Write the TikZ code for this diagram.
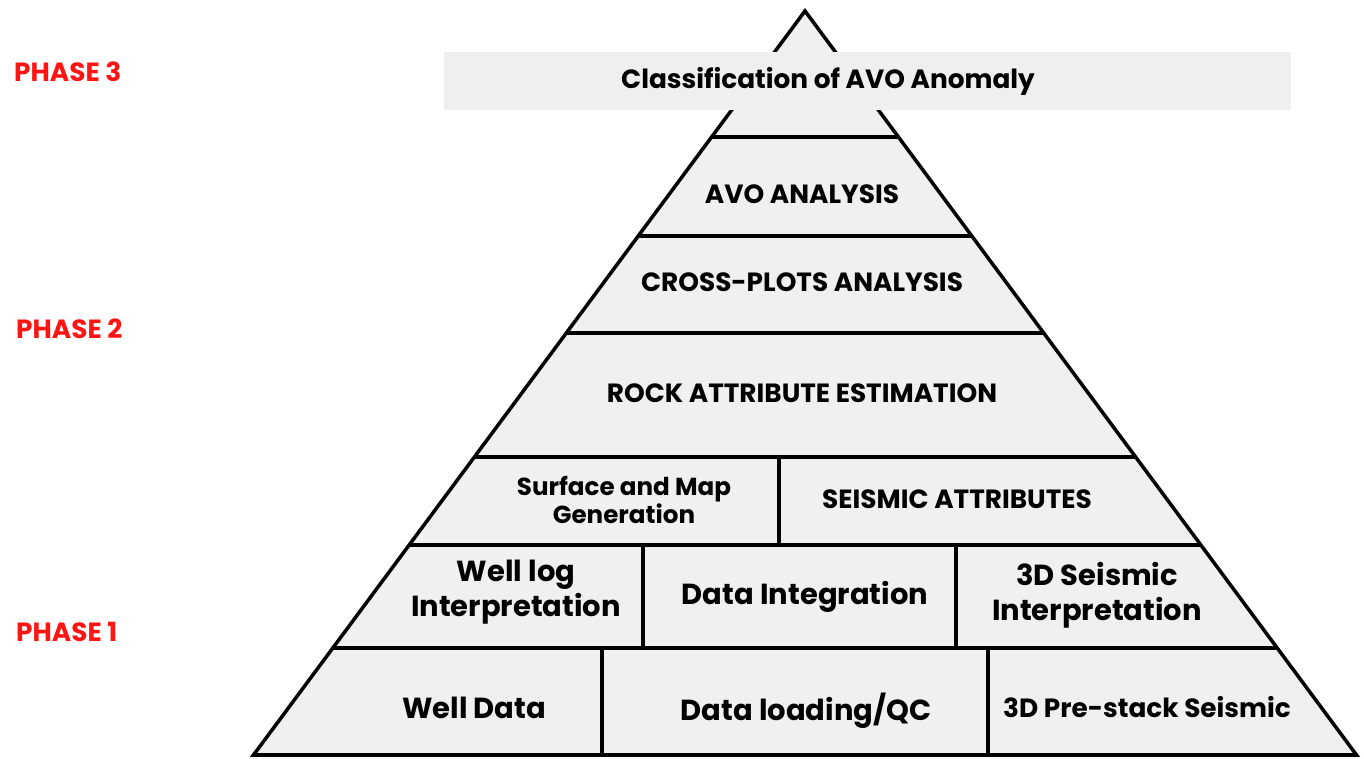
\documentclass[tikz,border=0pt]{standalone}
\usepackage{fontspec}
\setmainfont{Poppins}
\usetikzlibrary{calc}
\definecolor{colorFill}{HTML}{F0F0F0}
\definecolor{colorBand}{HTML}{EFEFEF}
\definecolor{colorPhase}{HTML}{FF1414}
\def\colorFill{colorFill}
\def\colorBand{colorBand}
\def\colorPhase{colorPhase}

\begin{document}
\begin{tikzpicture}[x=0.02cm, y=-0.02cm,
  level/.style={font=\bfseries\fontsize{15}{17}\selectfont, align=center},
  hand/.style={font=\bfseries\fontsize{16.5}{20}\selectfont, align=center},
  phase/.style={font=\bfseries\fontsize{15}{17}\selectfont, text=\colorPhase, anchor=west},
  edge/.style={line width=2pt, line join=miter}]

\useasboundingbox (0,0) rectangle (1364,759);

% Les sommets de la pyramide
\coordinate (apex) at (805,11);
\coordinate (bl) at (253.5,755);
\coordinate (br) at (1356.5,755);

% La pyramide remplie
\fill[\colorFill] (apex) -- (bl) -- (br) -- cycle;

% Les étages
\foreach \y in {137,236,333,457,545,648}
  \draw[edge] ($(apex)!{(\y-11)/744}!(bl)$) -- ($(apex)!{(\y-11)/744}!(br)$);

% Les séparations verticales
\draw[edge] (779,457) -- (779,545);
\draw[edge] (643,545) -- (643,648);
\draw[edge] (956,545) -- (956,648);
\draw[edge] (602,648) -- (602,755);
\draw[edge] (988,648) -- (988,755);

% Le contour
\draw[edge] (apex) -- (bl) -- (br) -- cycle;

% Le bandeau du haut
\fill[\colorBand] (444,52) rectangle (1291,110);
\node[level] (classif) at (828,81) {Classification of AVO Anomaly};

% Les textes des étages
\node[level] (avo) at (802,194) {AVO ANALYSIS};
\node[level] (cross) at (802,282) {CROSS-PLOTS ANALYSIS};
\node[level] (rock) at (802,393) {ROCK ATTRIBUTE ESTIMATION};
\node[level, font=\bfseries\fontsize{14}{16}\selectfont] (surface) at (624,500) {Surface and Map\\Generation};
\node[level] (attrib) at (957,499) {SEISMIC ATTRIBUTES};
\node[hand] (welllog) at (516,592) {Well log\\Interpretation};
\node[hand] (integ) at (805,597) {Data Integration};
\node[hand] (seisint) at (1097,595) {3D Seismic\\Interpretation};
\node[hand] (welldata) at (474,708) {Well Data};
\node[hand] (loading) at (806,711) {Data loading/QC};
\node[level] (prestack) at (1147,707) {3D Pre-stack Seismic};

% Les phases
\node[phase] (phase3) at (8,72) {PHASE 3};
\node[phase] (phase2) at (10,329) {PHASE 2};
\node[phase] (phase1) at (10,632) {PHASE 1};

\end{tikzpicture}
\end{document}
